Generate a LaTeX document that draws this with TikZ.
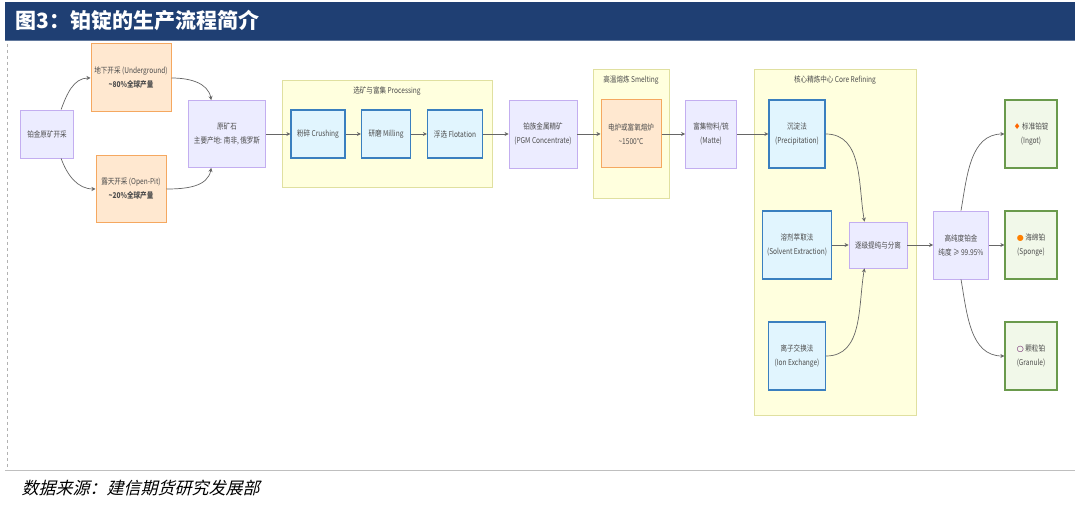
\documentclass[tikz,border=0pt]{standalone}
\usepackage{fontspec}
\setmainfont{Noto Sans CJK SC}
\newfontfamily\cjkit[FakeSlant=0.25]{Noto Sans CJK SC}
\newfontfamily\cond[FakeStretch=0.82]{Noto Sans CJK SC}
\newfontfamily\sym{DejaVu Sans}
\usetikzlibrary{arrows.meta}
\definecolor{pfill}{HTML}{ECECFF}\definecolor{pdraw}{HTML}{C3AEF0}
\definecolor{ofill}{HTML}{FFE8D0}\definecolor{odraw}{HTML}{F5A860}
\definecolor{bfill}{HTML}{E1F5FE}\definecolor{bdraw}{HTML}{3A7FBF}
\definecolor{gfill}{HTML}{F1F8E9}\definecolor{gdraw}{HTML}{6A9A4C}
\definecolor{cfill}{HTML}{FFFFDE}\definecolor{cdraw}{HTML}{E0E0A0}
\definecolor{hdr}{HTML}{1F3F73}
\begin{document}
\begin{tikzpicture}[x=1pt,y=-1pt,
 base/.style={draw,align=center,font=\cond\fontsize{8}{14}\selectfont,inner sep=0pt,text=black!70},
 pur/.style={base,fill=pfill,draw=pdraw,line width=0.8pt},
 ora/.style={base,fill=ofill,draw=odraw,line width=1pt},
 blu/.style={base,fill=bfill,draw=bdraw,line width=1.2pt},
 grn/.style={base,fill=gfill,draw=gdraw,line width=1.2pt},
 clus/.style={fill=cfill,draw=cdraw,line width=0.8pt},
 ctitle/.style={font=\cond\fontsize{8}{10}\selectfont,text=black!70},
 arr/.style={draw=black!60,line width=0.7pt,-{Stealth[length=4pt,width=4pt]}}]
\useasboundingbox (0,0) rectangle (1080,510);
\fill[white] (0,0) rectangle (1080,510);
% header
\fill[hdr] (5,2) rectangle (1075,40);
\draw[hdr!70,line width=1pt] (5,41) -- (1075,41);
\node[anchor=west,text=white,font=\fontsize{21}{24}\selectfont\bfseries] (title) at (12,21) {图3：铂锭的生产流程简介};
\draw[black!30,dashed] (7,44) -- (7,470);
\draw[black!25] (5,470) -- (1075,470);
\node[anchor=west,font=\cjkit\fontsize{17}{20}\selectfont] (src) at (18,488) {数据来源：建信期货研究发展部};
% clusters
\draw[clus] (282,80) rectangle (492,187);
\node[ctitle] (ct1) at (387,91) {选矿与富集 Processing};
\draw[clus] (593,69) rectangle (669,198);
\node[ctitle] (ct2) at (631,80) {高温熔炼 Smelting};
\draw[clus] (754,69) rectangle (916,415);
\node[ctitle] (ct3) at (835,80) {核心精炼中心 Core Refining};
% nodes
\node[pur,minimum width=53,minimum height=48] (mine) at (47,134) {铂金原矿开采};
\node[ora,minimum width=80,minimum height=68] (ug) at (131,78) {地下开采 (Underground)\\\textbf{\textasciitilde80\%全球产量}};
\node[ora,minimum width=70,minimum height=67] (op) at (131,189) {露天开采 (Open-Pit)\\\textbf{\textasciitilde20\%全球产量}};
\node[pur,minimum width=77,minimum height=67] (ore) at (227,134) {原矿石\\主要产地: 南非, 俄罗斯};
\node[blu,minimum width=54,minimum height=48] (cr) at (318,134) {粉碎 Crushing};
\node[blu,minimum width=49,minimum height=48] (mi) at (386,134) {研磨 Milling};
\node[blu,minimum width=55,minimum height=48] (fl) at (455,134) {浮选 Flotation};
\node[pur,minimum width=68,minimum height=68] (pgm) at (543,134) {铂族金属精矿\\(PGM Concentrate)};
\node[ora,minimum width=60,minimum height=68] (fu) at (631,134) {电炉或富氧熔炉\\\textasciitilde1500°C};
\node[pur,minimum width=51,minimum height=68] (ma) at (711,134) {富集物料/锍\\(Matte)};
\node[blu,minimum width=56,minimum height=68] (pr) at (797,134) {沉淀法\\(Precipitation)};
\node[blu,minimum width=69,minimum height=68] (so) at (797,245) {溶剂萃取法\\(Solvent Extraction)};
\node[blu,minimum width=57,minimum height=68] (io) at (797,356) {离子交换法\\(Ion Exchange)};
\node[pur,minimum width=58,minimum height=46] (st) at (878,245) {逐级提纯与分离};
\node[pur,minimum width=55,minimum height=68] (hp) at (961,245) {高纯度铂金\\纯度 ≥ 99.95\%};
\node[grn,minimum width=52,minimum height=68] (ig) at (1031,134) {{\sym\color{orange!80!red}♦} 标准铂锭\\(Ingot)};
\node[grn,minimum width=52,minimum height=68] (sp) at (1031,245) {{\sym\color{orange}●} 海绵铂\\(Sponge)};
\node[grn,minimum width=52,minimum height=68] (gr) at (1031,356) {{\sym\color{violet!70!black}○} 颗粒铂\\(Granule)};
% edges
\draw[arr] (mine.60) to[out=70,in=180] (ug.west);
\draw[arr] (mine.-60) to[out=-70,in=180] (op.west);
\draw[arr] (ug.east) to[out=0,in=100] (ore.115);
\draw[arr] (op.east) to[out=0,in=-100] (ore.-115);
\draw[arr] (ore) -- (cr);
\draw[arr] (cr) -- (mi);
\draw[arr] (mi) -- (fl);
\draw[arr] (fl) -- (pgm);
\draw[arr] (pgm) -- (fu);
\draw[arr] (fu) -- (ma);
\draw[arr] (ma) -- (pr);
\draw[arr] (pr.east) to[out=0,in=100] (st.120);
\draw[arr] (so) -- (st);
\draw[arr] (io.east) to[out=0,in=-100] (st.-120);
\draw[arr] (st) -- (hp);
\draw[arr] (hp.north) to[out=80,in=180] (ig.west);
\draw[arr] (hp) -- (sp);
\draw[arr] (hp.south) to[out=-80,in=180] (gr.west);
\end{tikzpicture}
\end{document}
